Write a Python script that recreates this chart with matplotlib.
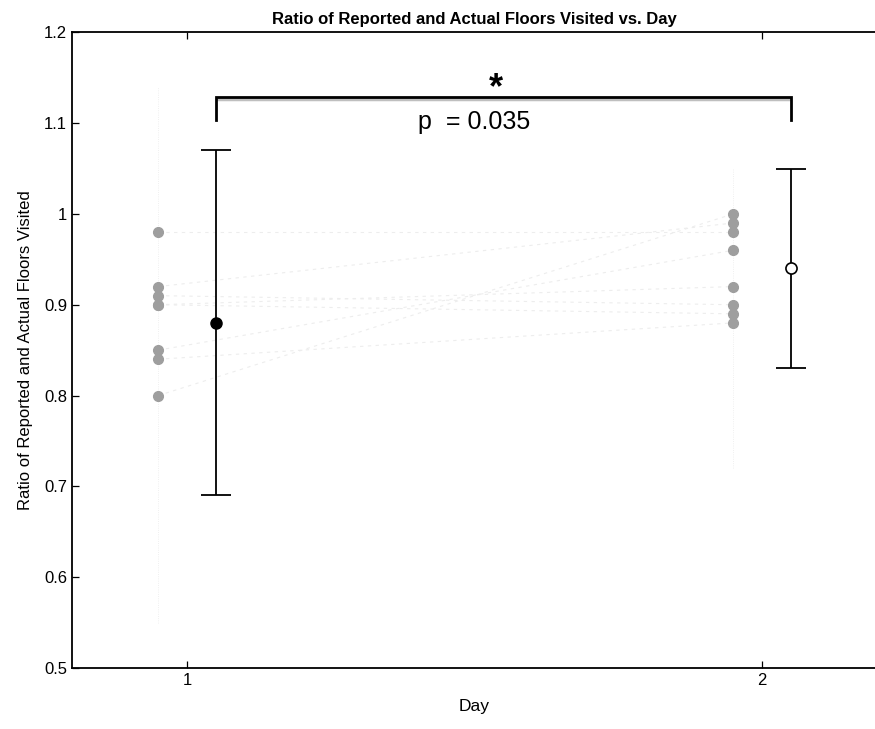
import numpy as np
import matplotlib
matplotlib.use("Agg")
import matplotlib.pyplot as plt

plt.rcParams["font.family"] = ["Liberation Sans", "DejaVu Sans"]

# ---------------------------------------------------------
# Data
# ---------------------------------------------------------
days = [1, 2]
day1_ratio = [0.98, 0.92, 0.91, 0.90, 0.90, 0.85, 0.84, 0.80]
day2_ratio = [1.00, 0.99, 0.98, 0.96, 0.92, 0.90, 0.89, 0.88]
# pairing of subjects between the two days (index into day2_ratio)
pair_idx = [2, 1, 5, 4, 6, 3, 7, 0]

mean_ratio = [0.88, 0.94]
err_low = [0.69, 0.83]
err_high = [1.07, 1.05]

p_text = "p  = 0.035"

# ---------------------------------------------------------
# Plot
# ---------------------------------------------------------
fig = plt.figure(figsize=(8.75, 7.29), dpi=100)
ax = fig.add_axes([0.0823, 0.0837, 0.92, 0.872])

x1 = days[0] - 0.05
x2 = days[1] - 0.05

# faint subject lines
for i, v in enumerate(day1_ratio):
    ax.plot([x1, x2], [v, day2_ratio[pair_idx[i]]], color="0.93",
            lw=0.8, ls=(0, (3, 4)), zorder=1)

# faint vertical guides behind each group
ax.plot([x1, x1], [0.55, 1.14], color="0.92", lw=0.6, ls=":", zorder=1)
ax.plot([x2, x2], [0.72, 1.05], color="0.92", lw=0.6, ls=":", zorder=1)

ax.plot([x1] * len(day1_ratio), day1_ratio, "o", color="0.62",
        ms=7, mec="0.62", zorder=2)
ax.plot([x2] * len(day2_ratio), day2_ratio, "o", color="0.62",
        ms=7, mec="0.62", zorder=2)

# mean with error bars
mx = [d + 0.05 for d in days]
yerr = np.array([[m - lo for m, lo in zip(mean_ratio, err_low)],
                 [hi - m for m, hi in zip(mean_ratio, err_high)]])
ax.errorbar(mx, mean_ratio, yerr=yerr, fmt="none", ecolor="black",
            elinewidth=1.3, capsize=11, capthick=1.3, zorder=3)
ax.plot(mx[0], mean_ratio[0], "o", color="black", ms=8, zorder=4)
ax.plot(mx[1], mean_ratio[1], "o", mfc="white", mec="black", mew=1.2,
        ms=8, zorder=4)

# significance bracket
by = 1.128
ax.plot([mx[0], mx[1]], [by - 0.002, by - 0.002],
        color="0.75", lw=2.5, zorder=4, solid_capstyle="butt")
ax.plot([mx[0], mx[0], mx[1], mx[1]], [1.103, by + 0.001, by + 0.001, 1.103],
        color="black", lw=2, zorder=5, solid_joinstyle="miter")
ax.text(1.537, 1.138, "*", ha="center", va="center", fontsize=26,
        fontweight="bold")
ax.text(1.50, 1.101, p_text, ha="center", va="center", fontsize=18)

ax.set_xlim(0.8, 2.2)
ax.set_ylim(0.5, 1.2)
ax.set_xticks(days)
ax.set_yticks(np.arange(0.5, 1.21, 0.1))
ax.set_yticklabels(["0.5", "0.6", "0.7", "0.8", "0.9", "1", "1.1", "1.2"])
ax.tick_params(direction="in", top=True, right=False, labelsize=12,
               length=5, width=0.9)
for s in ax.spines.values():
    s.set_linewidth(1.3)

ax.set_title("Ratio of Reported and Actual Floors Visited vs. Day",
             fontsize=12, fontweight="bold", pad=6)
ax.set_xlabel("Day", fontsize=12.5, labelpad=8)
ax.set_ylabel("Ratio of Reported and Actual Floors Visited", fontsize=12,
              labelpad=8)

fig.savefig("out.png", dpi=100)
